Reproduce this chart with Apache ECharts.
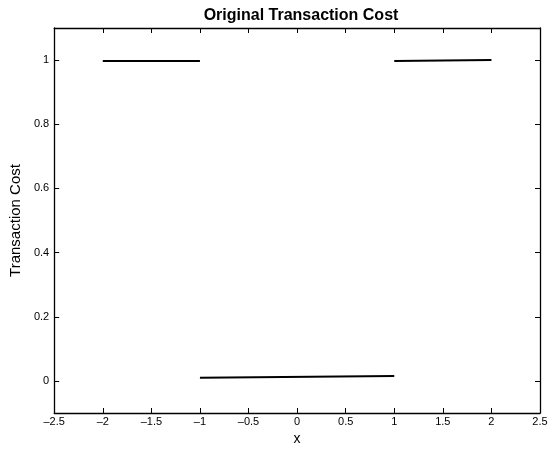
<!DOCTYPE html>
<html><head><meta charset="utf-8">
<script src="https://cdn.jsdelivr.net/npm/echarts@6/dist/echarts.min.js"></script>
<style>html,body{margin:0;padding:0;background:#fff}#c{width:552px;height:452px}</style>
</head><body><div id="c"></div>
<script>
var titleText = "Original Transaction Cost";
var xLabel = "x";
var yLabel = "Transaction Cost";
var yTicks = [0, 0.2, 0.4, 0.6, 0.8, 1];
var seg1X = [-2, -1];
var seg1Y = [0.997, 0.997];
var seg2X = [-1, 1];
var seg2Y = [0.010, 0.015];
var seg3X = [1, 2];
var seg3Y = [0.997, 1.0];

function pairs(xs, ys){ return xs.map(function(x,i){return [x, ys[i]];}); }
function fmt(v){ var s = String(Math.round(v*100)/100); return s.replace('-', '\u2013'); }

var FONT = 'Liberation Sans, Arial, sans-serif';
var chart = echarts.init(document.getElementById('c'), null, {renderer:'canvas'});
var lineStyle = {color:'#000', width:2};
var axLine = {show:true, onZero:false, lineStyle:{color:'#000', width:1.3}};
function mkSeries(xs, ys){
  return {type:'line', data:pairs(xs, ys), showSymbol:false, symbol:'none', lineStyle:lineStyle, animation:false, xAxisIndex:0, yAxisIndex:0};
}
chart.setOption({
  animation:false,
  title:{text:titleText, left:296, top:3, textAlign:'center', textStyle:{fontFamily:FONT, fontSize:16, fontWeight:'bold', color:'#000'}},
  grid:{left:51, right:12, top:28, bottom:39, containLabel:false},
  xAxis:[
    {type:'value', position:'bottom', min:-2.5, max:2.5, interval:0.5, name:xLabel, nameLocation:'middle', nameGap:17,
     nameTextStyle:{fontFamily:FONT, fontSize:14, color:'#000'},
     axisLine:axLine, axisTick:{show:true, inside:true, length:5, lineStyle:{color:'#000'}},
     axisLabel:{fontFamily:FONT, fontSize:11, color:'#000', margin:3, formatter:fmt, showMinLabel:true, showMaxLabel:true},
     splitLine:{show:false}},
    {type:'value', position:'top', min:-2.5, max:2.5, interval:0.5,
     axisLine:axLine, axisTick:{show:true, inside:true, length:5, lineStyle:{color:'#000'}},
     axisLabel:{show:false}, splitLine:{show:false}}
  ],
  yAxis:[
    {type:'value', position:'left', min:-0.1, max:1.1, name:yLabel, nameLocation:'middle', nameGap:27, nameRotate:90,
     nameTextStyle:{fontFamily:FONT, fontSize:15, color:'#000'},
     axisLine:axLine, axisTick:{show:true, inside:true, length:5, customValues:yTicks, lineStyle:{color:'#000'}},
     axisLabel:{fontFamily:FONT, fontSize:11, color:'#000', margin:5, customValues:yTicks, formatter:fmt},
     splitLine:{show:false}},
    {type:'value', position:'right', min:-0.1, max:1.1,
     axisLine:axLine, axisTick:{show:true, inside:true, length:5, customValues:yTicks, lineStyle:{color:'#000'}},
     axisLabel:{show:false}, splitLine:{show:false}}
  ],
  series:[mkSeries(seg1X, seg1Y), mkSeries(seg2X, seg2Y), mkSeries(seg3X, seg3Y)]
});
</script></body></html>
